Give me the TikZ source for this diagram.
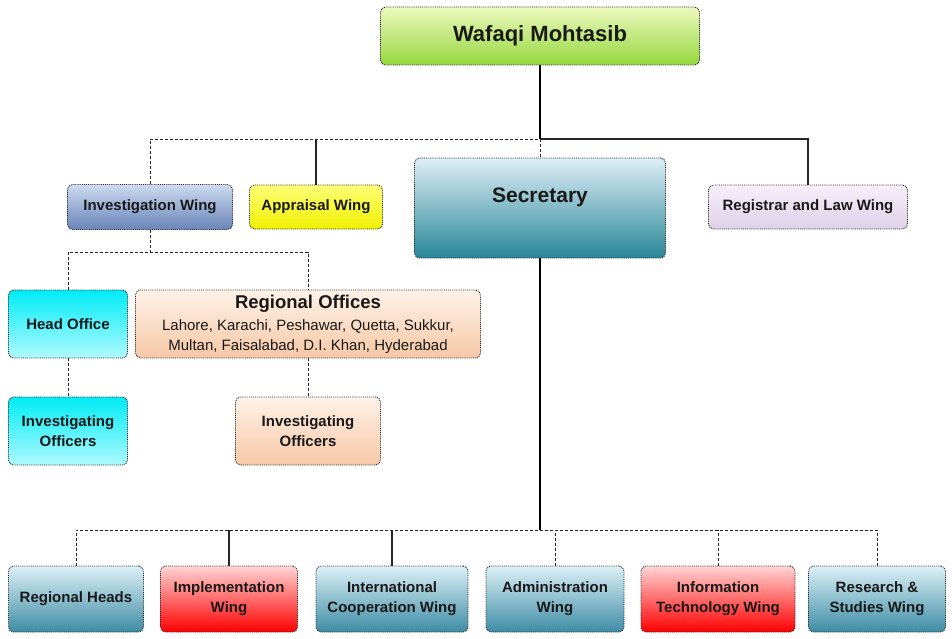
\documentclass[tikz,border=0pt]{standalone}
\usepackage{fontspec}
\setmainfont{Liberation Sans}
\definecolor{gTop}{RGB}{236,248,190}
\definecolor{gBot}{RGB}{150,216,62}
\definecolor{ivTop}{RGB}{205,218,240}
\definecolor{ivBot}{RGB}{105,132,184}
\definecolor{yTop}{RGB}{255,255,120}
\definecolor{yBot}{RGB}{240,240,0}
\definecolor{sTop}{RGB}{222,238,246}
\definecolor{sBot}{RGB}{40,135,152}
\definecolor{lTop}{RGB}{246,240,250}
\definecolor{lBot}{RGB}{222,208,232}
\definecolor{cTop}{RGB}{0,236,246}
\definecolor{cBot}{RGB}{175,250,255}
\definecolor{pTop}{RGB}{255,242,232}
\definecolor{pBot}{RGB}{246,200,166}
\definecolor{bTop}{RGB}{220,240,246}
\definecolor{bBot}{RGB}{62,140,165}
\definecolor{rTop}{RGB}{255,212,212}
\definecolor{rBot}{RGB}{255,0,0}
\tikzset{
  x=1pt, y=-1pt,
  box/.style={draw=black!85, densely dotted, line width=0.9pt, rounded corners=5pt,
    align=center, inner sep=0pt, text=black!90, font=\fontsize{15}{20}\selectfont\bfseries},
  conn/.style={draw=black!85, densely dashed, line width=0.9pt},
  sconn/.style={draw=black!85, solid, line width=1.1pt},
  spine/.style={draw=black, solid, line width=2pt},
}
\begin{document}
\begin{tikzpicture}
\useasboundingbox (0,0) rectangle (952,639);
% top
\node[box, top color=gTop, bottom color=gBot, minimum width=319pt, minimum height=58pt,
  font=\fontsize{22}{26}\selectfont\bfseries] (wm) at (540,36) {Wafaqi Mohtasib};
% level 2
\node[box, top color=ivTop, bottom color=ivBot, minimum width=165pt, minimum height=45pt] (inv) at (150,207) {Investigation Wing};
\node[box, top color=yTop, bottom color=yBot, minimum width=133pt, minimum height=44pt] (app) at (316,207) {Appraisal Wing};
\node[box, top color=sTop, bottom color=sBot, minimum width=251pt, minimum height=100pt, text depth=26pt,
  font=\fontsize{21}{24}\selectfont\bfseries] (sec) at (540,208) {Secretary};
\node[box, top color=lTop, bottom color=lBot, minimum width=199pt, minimum height=44pt] (reg) at (808,207) {Registrar and Law Wing};
% level 3
\node[box, top color=cTop, bottom color=cBot, minimum width=119pt, minimum height=68pt] (ho) at (68,324) {Head Office};
\node[box, top color=pTop, bottom color=pBot, minimum width=345pt, minimum height=68pt] (ro) at (308,324)
  {{\fontsize{18.5}{20}\selectfont\bfseries Regional Offices}\\[2pt]
   {\fontsize{15}{19}\selectfont\mdseries Lahore, Karachi, Peshawar, Quetta, Sukkur,}\\
   {\fontsize{15}{19}\selectfont\mdseries Multan, Faisalabad, D.I. Khan, Hyderabad}};
\node[box, top color=cTop, bottom color=cBot, minimum width=119pt, minimum height=68pt] (io1) at (68,431) {Investigating\\Officers};
\node[box, top color=pTop, bottom color=pBot, minimum width=145pt, minimum height=68pt] (io2) at (308,431) {Investigating\\Officers};
% bottom row
\node[box, top color=bTop, bottom color=bBot, minimum width=135pt, minimum height=66pt] (rh) at (76,599) {Regional Heads};
\node[box, top color=rTop, bottom color=rBot, minimum width=137pt, minimum height=66pt] (imp) at (229,599) {Implementation\\Wing};
\node[box, top color=bTop, bottom color=bBot, minimum width=152pt, minimum height=66pt] (icw) at (392,599) {International\\Cooperation Wing};
\node[box, top color=bTop, bottom color=bBot, minimum width=138pt, minimum height=66pt] (adm) at (555,599) {Administration\\Wing};
\node[box, top color=rTop, bottom color=rBot, minimum width=154pt, minimum height=66pt] (itw) at (718,599) {Information\\Technology Wing};
\node[box, top color=bTop, bottom color=bBot, minimum width=137pt, minimum height=66pt] (rsw) at (877,599) {Research \&\\Studies Wing};
% connectors
\coordinate (t) at (540,139);
\coordinate (ib) at (150,252);
\coordinate (bb) at (540,530);
\draw[conn] (inv.north) |- (t);
\draw[sconn] (t) -| (reg.north);
\draw[sconn] (app.north) -- (app.north |- t);
\draw[spine] (wm.south) -- (t);
\draw[conn] (t) -- (sec.north);
\draw[conn] (inv.south) -- (ib);
\draw[conn] (ho.north) |- (ib) -| (ro.north);
\draw[conn] (ho.south) -- (io1.north);
\draw[conn] (ro.south) -- (io2.north);
\draw[spine] (sec.south) -- (bb);
\draw[conn] (rh.north) |- (bb) -| (rsw.north);
\draw[sconn] (imp.north) -- (imp.north |- bb);
\draw[sconn] (icw.north) -- (icw.north |- bb);
\draw[conn] (adm.north) -- (adm.north |- bb);
\draw[conn] (itw.north) -- (itw.north |- bb);
\end{tikzpicture}
\end{document}
